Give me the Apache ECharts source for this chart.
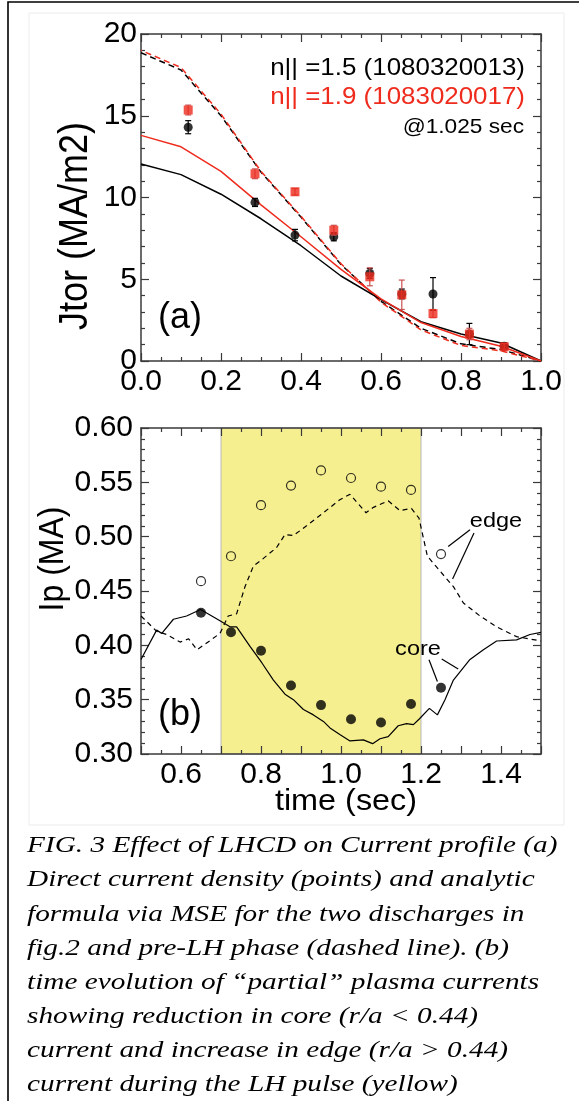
<!DOCTYPE html>
<html>
<head>
<meta charset="utf-8">
<script src="https://cdn.jsdelivr.net/npm/echarts@6/dist/echarts.min.js"></script>
<style>
html,body{margin:0;padding:0;background:#fff;}
#chart{width:579px;height:1101px;}
</style>
</head>
<body>
<div id="chart"></div>
<script>
// ---------- Panel (a): current density profiles ----------
const rProfile   = [0, 0.1, 0.2, 0.3, 0.4, 0.5, 0.6, 0.7, 0.8, 0.9, 1.0];
const jPreBlack  = [18.85, 17.8, 15.0, 11.55, 8.8, 5.9, 3.65, 2.0, 1.05, 0.7, 0];
const jPreRed    = [19.0, 17.95, 15.1, 11.6, 8.85, 5.95, 3.6, 1.9, 0.95, 0.62, 0];
const jFitBlack  = [12.05, 11.4, 10.2, 8.7, 7.05, 5.2, 3.75, 2.4, 1.65, 1.1, 0];
const jFitRed    = [13.8, 13.1, 11.6, 9.55, 7.6, 5.6, 3.8, 2.35, 1.5, 0.9, 0];

const rPoints    = [0.118, 0.285, 0.385, 0.482, 0.572, 0.652, 0.730, 0.821, 0.908];
const jBlack     = [14.3, 9.7, 7.7, 7.6, 5.35, 4.1, 4.1, 1.65, 0.9];
const jBlackErr  = [0.4, 0.25, 0.35, 0.25, 0.3, 0.3, 1.0, 0.65, 0.2];
const jRed       = [15.35, 11.45, 10.35, 8.0, 5.15, 4.05, 2.9, 1.65, 0.87];
const jRedErr    = [0.3, 0.3, 0.2, 0.3, 0.55, 0.9, 0.25, 0.35, 0.2];

// ---------- Panel (b): partial plasma currents ----------
const coreT = [0.50, 0.539, 0.552, 0.581, 0.614, 0.649, 0.691, 0.7225, 0.739, 0.7725, 0.802, 0.831, 0.860, 0.881, 0.906, 0.931, 0.956, 0.9725, 0.997, 1.0225, 1.056, 1.079, 1.0975, 1.118, 1.143, 1.164, 1.181, 1.195, 1.221, 1.241, 1.26, 1.281, 1.3225, 1.356, 1.389, 1.439, 1.4725, 1.5];
const coreI = [0.387, 0.414, 0.411, 0.424, 0.427, 0.433, 0.424, 0.417, 0.417, 0.399, 0.384, 0.368, 0.355, 0.350, 0.341, 0.336, 0.330, 0.324, 0.318, 0.312, 0.313, 0.3095, 0.314, 0.316, 0.326, 0.328, 0.327, 0.332, 0.342, 0.336, 0.350, 0.368, 0.387, 0.396, 0.404, 0.405, 0.410, 0.412];
const edgeT = [0.50, 0.539, 0.564, 0.598, 0.619, 0.64, 0.66, 0.6975, 0.718, 0.739, 0.76, 0.781, 0.806, 0.839, 0.860, 0.881, 0.914, 0.956, 0.997, 1.0225, 1.0625, 1.081, 1.118, 1.1475, 1.176, 1.195, 1.216, 1.26, 1.281, 1.306, 1.3475, 1.389, 1.439, 1.5];
const edgeI = [0.427, 0.413, 0.410, 0.403, 0.406, 0.396, 0.401, 0.411, 0.427, 0.429, 0.454, 0.473, 0.480, 0.490, 0.502, 0.501, 0.510, 0.522, 0.534, 0.539, 0.522, 0.527, 0.533, 0.524, 0.526, 0.517, 0.482, 0.463, 0.454, 0.439, 0.427, 0.417, 0.408, 0.404];

const ptT     = [0.65, 0.725, 0.80, 0.875, 0.95, 1.025, 1.10, 1.175, 1.25];
const ptEdge  = [0.459, 0.482, 0.529, 0.547, 0.561, 0.554, 0.546, 0.543, 0.484];
const ptCore  = [0.430, 0.412, 0.395, 0.363, 0.345, 0.332, 0.329, 0.346, 0.361];

const lhPulse = [0.7, 1.2];

// leader lines for the "edge" / "core" annotations (data coords)
const edgeLeaders = [[[1.3225, 0.5064], [1.268, 0.491]], [[1.3325, 0.5034], [1.279, 0.461]]];
const coreLeaders = [[[1.220, 0.3868], [1.241, 0.3668]], [[1.2518, 0.3874], [1.293, 0.3782]]];

const legendText = ['n|| =1.5 (1080320013)', 'n|| =1.9 (1083020017)', '@1.025 sec'];
const captionLines = [
  'FIG. 3 Effect of LHCD on Current profile (a)',
  'Direct current density (points) and analytic',
  'formula via MSE for the two discharges in',
  'fig.2 and pre-LH phase (dashed line). (b)',
  'time evolution of \u201Cpartial\u201D plasma currents',
  'showing reduction in core (r/a < 0.44)',
  'current and increase in edge (r/a > 0.44)',
  'current during the LH pulse (yellow)'
];

const RED = '#ee2b1d';
const AX = '#3a3a3a';
const SANS = 'Liberation Sans, Arial, sans-serif';

const zip = (a, b) => a.map((v, i) => [v, b[i]]);
const zip3 = (a, b, c) => a.map((v, i) => [v, b[i], c[i]]);

function errRender(color) {
  return function (params, api) {
    const x = api.value(0), y = api.value(1), e = api.value(2);
    const top = api.coord([x, y + e]);
    const bot = api.coord([x, y - e]);
    const w = 3;
    const st = { stroke: color, lineWidth: 1.2 };
    return {
      type: 'group',
      children: [
        { type: 'line', shape: { x1: top[0], y1: top[1], x2: bot[0], y2: bot[1] }, style: st },
        { type: 'line', shape: { x1: top[0] - w, y1: top[1], x2: top[0] + w, y2: top[1] }, style: st },
        { type: 'line', shape: { x1: bot[0] - w, y1: bot[1], x2: bot[0] + w, y2: bot[1] }, style: st }
      ]
    };
  };
}

function xAx(grid, min, max, interval, minorSplit, fmt, showLabel, pos) {
  return {
    type: 'value', gridIndex: grid, min: min, max: max, interval: interval, position: pos, z: 3,
    axisLine: { show: true, onZero: false, lineStyle: { color: AX, width: 1.5 } },
    axisTick: { show: true, inside: true, length: 8, lineStyle: { color: AX, width: 1.2 } },
    minorTick: { show: true, splitNumber: minorSplit, length: 4, lineStyle: { color: AX, width: 1.2 } },
    splitLine: { show: false },
    axisLabel: { show: showLabel, fontSize: 30, color: '#000', fontFamily: SANS, margin: 6, formatter: fmt, showMinLabel: true, showMaxLabel: true }
  };
}
function yAx(grid, min, max, interval, minorSplit, fmt, showLabel, pos, margin) {
  return {
    type: 'value', gridIndex: grid, min: min, max: max, interval: interval, position: pos, z: 3,
    axisLine: { show: true, onZero: false, lineStyle: { color: AX, width: 1.5 } },
    axisTick: { show: true, inside: true, length: 8, lineStyle: { color: AX, width: 1.2 } },
    minorTick: { show: true, splitNumber: minorSplit, length: 4, lineStyle: { color: AX, width: 1.2 } },
    splitLine: { show: false },
    axisLabel: { show: showLabel, fontSize: 30, color: '#000', fontFamily: SANS, margin: margin, formatter: fmt, showMinLabel: true, showMaxLabel: true }
  };
}

const fmt1 = v => v.toFixed(1);
const fmtTime = v => { const k = Math.round(v * 10); return k % 2 === 0 ? (k / 10).toFixed(1) : ''; };
const fmtInt = v => String(Math.round(v));
const fmt2 = v => v.toFixed(2);

const chart = echarts.init(document.getElementById('chart'), null, { renderer: 'canvas' });

function txt(x, y, s, font, opts) {
  opts = opts || {};
  return {
    type: 'text', x: x, y: y, z: 10, rotation: opts.rot || 0,
    scaleX: opts.sx || 1, scaleY: opts.sy || 1,
    style: { text: s, font: font, fill: opts.color || '#000', align: opts.align || 'center', verticalAlign: 'middle' }
  };
}

const option = {
  animation: false,
  backgroundColor: '#fff',
  grid: [
    { left: 141, top: 34, width: 400, height: 327 },
    { left: 141, top: 428, width: 400, height: 326 }
  ],
  xAxis: [
    xAx(0, 0, 1, 0.2, 4, fmt1, true, 'bottom'),
    xAx(0, 0, 1, 0.2, 4, fmt1, false, 'top'),
    xAx(1, 0.5, 1.5, 0.1, 2, fmtTime, true, 'bottom'),
    xAx(1, 0.5, 1.5, 0.1, 2, fmtTime, false, 'top')
  ],
  yAxis: [
    yAx(0, 0, 20, 5, 5, fmtInt, true, 'left', 4),
    yAx(0, 0, 20, 5, 5, fmtInt, false, 'right', 4),
    yAx(1, 0.30, 0.60, 0.05, 5, fmt2, true, 'left', 8),
    yAx(1, 0.30, 0.60, 0.05, 5, fmt2, false, 'right', 8)
  ],
  series: [
    // ----- panel (a) -----
    { type: 'line', xAxisIndex: 0, yAxisIndex: 0, data: zip(rProfile, jPreBlack), showSymbol: false, z: 4,
      lineStyle: { color: '#000', width: 1.5, type: [6, 4] } },
    { type: 'line', xAxisIndex: 0, yAxisIndex: 0, data: zip(rProfile, jPreRed), showSymbol: false, z: 4,
      lineStyle: { color: RED, width: 1.5, type: [6, 4], dashOffset: 5 } },
    { type: 'line', xAxisIndex: 0, yAxisIndex: 0, data: zip(rProfile, jFitBlack), showSymbol: false, z: 4,
      lineStyle: { color: '#000', width: 1.5 } },
    { type: 'line', xAxisIndex: 0, yAxisIndex: 0, data: zip(rProfile, jFitRed), showSymbol: false, z: 4,
      lineStyle: { color: RED, width: 1.5 } },
    { type: 'custom', xAxisIndex: 0, yAxisIndex: 0, data: zip3(rPoints, jBlack, jBlackErr), z: 5,
      renderItem: errRender('#000') },
    { type: 'scatter', xAxisIndex: 0, yAxisIndex: 0, data: zip(rPoints, jBlack), symbol: 'circle', symbolSize: 9, z: 6,
      itemStyle: { color: '#000' } },
    { type: 'custom', xAxisIndex: 0, yAxisIndex: 0, data: zip3(rPoints, jRed, jRedErr), z: 7,
      renderItem: errRender('#c85050') },
    { type: 'scatter', xAxisIndex: 0, yAxisIndex: 0, data: zip(rPoints, jRed), symbol: 'rect', symbolSize: 9, z: 8,
      itemStyle: { color: RED } },
    // ----- panel (b) -----
    { type: 'line', xAxisIndex: 2, yAxisIndex: 2, data: [], z: 1, silent: true,
      markArea: { silent: true, itemStyle: { color: '#f6ef90', borderColor: '#b9b9b9', borderWidth: 1 },
        data: [[{ xAxis: lhPulse[0] }, { xAxis: lhPulse[1] }]] } },
    { type: 'line', xAxisIndex: 2, yAxisIndex: 2, data: zip(edgeT, edgeI), showSymbol: false, z: 4,
      lineStyle: { color: '#000', width: 1.2, type: [5, 4] } },
    { type: 'line', xAxisIndex: 2, yAxisIndex: 2, data: zip(coreT, coreI), showSymbol: false, z: 4,
      lineStyle: { color: '#000', width: 1.2 },
      markLine: { silent: true, symbol: ['none', 'none'], label: { show: false },
        lineStyle: { color: '#000', width: 1.2, type: 'solid' },
        data: edgeLeaders.concat(coreLeaders).map(s => [{ coord: s[0] }, { coord: s[1] }]) } },
    { type: 'scatter', xAxisIndex: 2, yAxisIndex: 2, data: zip(ptT, ptEdge), symbol: 'circle', symbolSize: 9, z: 6,
      itemStyle: { color: 'rgba(0,0,0,0)', borderColor: '#000', borderWidth: 1.2 } },
    { type: 'scatter', xAxisIndex: 2, yAxisIndex: 2, data: zip(ptT, ptCore), symbol: 'circle', symbolSize: 10, z: 6,
      itemStyle: { color: '#000' } }
  ],
  graphic: [
    { type: 'rect', shape: { x: 8, y: 2, width: 620, height: 1200 }, style: { fill: 'none', stroke: '#000', lineWidth: 1.6 }, z: 0 },
    { type: 'rect', shape: { x: 29, y: 13, width: 535, height: 812 }, style: { fill: 'none', stroke: '#ececec', lineWidth: 1 }, z: 0 },
    // axis titles
    txt(76, 226, 'Jtor (MA/m2)', '36px ' + SANS, { rot: Math.PI / 2, sy: 1.15 }),
    txt(53, 559, 'Ip (MA)', '32px ' + SANS, { rot: Math.PI / 2, sy: 1.12 }),
    txt(346, 802, 'time (sec)', '30px ' + SANS, { sx: 1.08 }),
    // panel labels
    txt(180, 318, '(a)', '36px ' + SANS),
    txt(180, 715, '(b)', '36px ' + SANS),
    // legend texts
    txt(525, 68, legendText[0], '24px ' + SANS, { align: 'right', sx: 1.08 }),
    txt(525, 97, legendText[1], '24px ' + SANS, { align: 'right', sx: 1.08, color: RED }),
    txt(524, 127, legendText[2], '21px ' + SANS, { align: 'right', sx: 1.08 }),
    // annotations
    txt(496, 521, 'edge', '21px ' + SANS, { sx: 1.12 }),
    txt(418, 649, 'core', '21px ' + SANS, { sx: 1.12 })
  ].concat(captionLines.map((t, i) =>
    txt(27, 846 + i * 34.1, t, 'italic 24px "Liberation Serif", "Times New Roman", serif', { align: 'left', sx: 1.22 })
  ))
};

chart.setOption(option);
</script>
</body>
</html>
